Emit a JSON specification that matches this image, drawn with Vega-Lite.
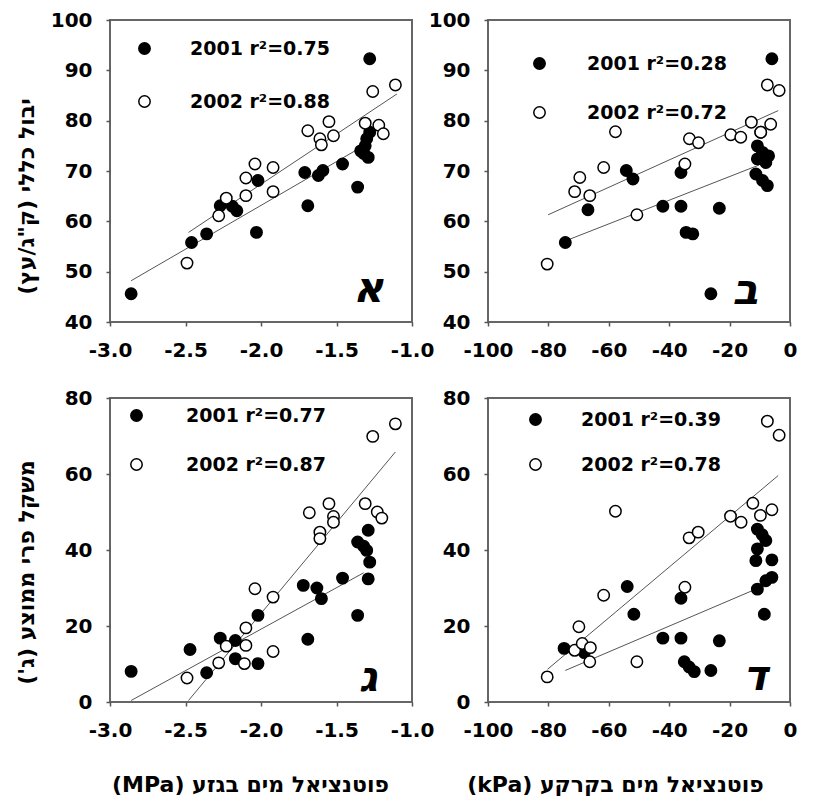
{
  "$schema": "https://vega.github.io/schema/vega-lite/v6.json",
  "padding": {"left": 14, "top": 9, "right": 0, "bottom": 0},
  "background": "white",
  "bounds": "flush",
  "columns": 2,
  "spacing": {"row": 76, "column": 76},
  "resolve": {"scale": {"fill": "independent"}, "legend": {"fill": "independent"}},
  "config": {
    "font": "DejaVu Sans",
    "view": {"stroke": "#666", "strokeWidth": 2},
    "axis": {
      "grid": false,
      "domain": false,
      "ticks": true,
      "tickSize": 4,
      "tickWidth": 1.5,
      "tickColor": "#555",
      "labelFont": "DejaVu Sans",
      "labelFontWeight": "bold",
      "labelFontSize": 20,
      "labelColor": "black",
      "labelPadding": 14,
      "labelFlush": false,
      "labelOverlap": false,
      "titleFont": "DejaVu Sans",
      "titleFontWeight": "bold",
      "titleFontSize": 22,
      "titleColor": "black"
    },
    "legend": {
      "orient": "none",
      "title": null,
      "padding": 0,
      "labelFont": "DejaVu Sans",
      "labelFontWeight": "bold",
      "labelFontSize": 19,
      "labelColor": "black",
      "symbolType": "circle",
      "symbolSize": 130,
      "symbolStrokeColor": "black",
      "symbolStrokeWidth": 1.5,
      "symbolOpacity": 1
    }
  },
  "concat": [
    {
      "width": 302,
      "height": 302,
      "layer": [
        {
          "data": {"values": [
            {"x": -2.86, "y": 48.2, "year": "2001"}, {"x": -1.32, "y": 75.0, "year": "2001"},
            {"x": -2.48, "y": 57.8, "year": "2002"}, {"x": -1.10, "y": 85.3, "year": "2002"}
          ]},
          "mark": {"type": "line", "color": "#555", "strokeWidth": 1},
          "encoding": {
            "x": {"field": "x", "type": "quantitative", "scale": {"domain": [-3, -1], "nice": false},
                  "axis": {"values": [-3, -2.5, -2, -1.5, -1], "format": ".1f", "labelExpr": "replace(datum.label, '−', '-')", "title": null}},
            "y": {"field": "y", "type": "quantitative", "scale": {"domain": [40, 100], "nice": false},
                  "axis": {"values": [40, 50, 60, 70, 80, 90, 100], "title": "יבול כללי (ק\"ג/עץ)\u200f", "titleX": -84, "titleY": 176, "titleAlign": "center", "titleBaseline": "middle", "titleAngle": -90}},
            "detail": {"field": "year"}
          }
        },
        {
          "data": {"values": [
            {"x": -2.86, "y": 45.6, "year": "2001"}, {"x": -2.46, "y": 55.8, "year": "2001"}, {"x": -2.36, "y": 57.5, "year": "2001"},
            {"x": -2.27, "y": 63.1, "year": "2001"}, {"x": -2.19, "y": 63.0, "year": "2001"}, {"x": -2.16, "y": 62.1, "year": "2001"},
            {"x": -2.03, "y": 57.8, "year": "2001"}, {"x": -2.02, "y": 68.1, "year": "2001"}, {"x": -1.71, "y": 69.7, "year": "2001"},
            {"x": -1.69, "y": 63.1, "year": "2001"}, {"x": -1.62, "y": 69.1, "year": "2001"}, {"x": -1.59, "y": 70.1, "year": "2001"},
            {"x": -1.46, "y": 71.4, "year": "2001"}, {"x": -1.36, "y": 66.8, "year": "2001"}, {"x": -1.28, "y": 92.3, "year": "2001"},
            {"x": -1.34, "y": 74.0, "year": "2001"}, {"x": -1.30, "y": 76.4, "year": "2001"}, {"x": -1.29, "y": 72.7, "year": "2001"},
            {"x": -1.31, "y": 75.0, "year": "2001"}, {"x": -1.28, "y": 77.7, "year": "2001"}, {"x": -1.32, "y": 73.5, "year": "2001"},
            {"x": -2.49, "y": 51.7, "year": "2002"}, {"x": -2.28, "y": 61.1, "year": "2002"}, {"x": -2.23, "y": 64.6, "year": "2002"},
            {"x": -2.10, "y": 65.1, "year": "2002"}, {"x": -2.10, "y": 68.6, "year": "2002"}, {"x": -2.04, "y": 71.4, "year": "2002"},
            {"x": -1.92, "y": 70.7, "year": "2002"}, {"x": -1.92, "y": 65.9, "year": "2002"}, {"x": -1.69, "y": 78.0, "year": "2002"},
            {"x": -1.61, "y": 76.4, "year": "2002"}, {"x": -1.60, "y": 75.2, "year": "2002"}, {"x": -1.55, "y": 79.8, "year": "2002"},
            {"x": -1.52, "y": 77.0, "year": "2002"}, {"x": -1.31, "y": 79.5, "year": "2002"}, {"x": -1.22, "y": 79.1, "year": "2002"},
            {"x": -1.19, "y": 77.4, "year": "2002"}, {"x": -1.26, "y": 85.8, "year": "2002"}, {"x": -1.11, "y": 87.1, "year": "2002"}
          ]},
          "mark": {"type": "point", "shape": "circle", "filled": true, "size": 130, "stroke": "black", "strokeWidth": 1.5, "opacity": 1},
          "encoding": {
            "x": {"field": "x", "type": "quantitative"},
            "y": {"field": "y", "type": "quantitative"},
            "fill": {"field": "year", "type": "nominal", "scale": {"domain": ["2001", "2002"], "range": ["black", "white"]},
                     "legend": {"legendX": 25, "legendY": 19, "rowPadding": 33, "labelOffset": 36,
                                "labelExpr": "datum.label == '2001' ? '2001 r²=0.75' : '2002 r²=0.88'"}}
          }
        },
        {
          "data": {"values": [{"letter": "א"}]},
          "mark": {"type": "text", "font": "DejaVu Sans", "fontWeight": "bold", "fontStyle": "italic", "fontSize": 42, "baseline": "alphabetic", "align": "center", "color": "black"},
          "encoding": {"x": {"datum": -1.29}, "y": {"datum": 44.0}, "text": {"field": "letter"}}
        }
      ]
    },
    {
      "width": 302,
      "height": 302,
      "layer": [
        {
          "data": {"values": [
            {"x": -74.0, "y": 56.2, "year": "2001"}, {"x": -10.2, "y": 71.2, "year": "2001"},
            {"x": -80.1, "y": 61.3, "year": "2002"}, {"x": -3.9, "y": 82.0, "year": "2002"}
          ]},
          "mark": {"type": "line", "color": "#555", "strokeWidth": 1},
          "encoding": {
            "x": {"field": "x", "type": "quantitative", "scale": {"domain": [-100, 0], "nice": false},
                  "axis": {"values": [-100, -80, -60, -40, -20, 0], "labelExpr": "replace(datum.label, '−', '-')", "title": null}},
            "y": {"field": "y", "type": "quantitative", "scale": {"domain": [40, 100], "nice": false},
                  "axis": {"values": [40, 50, 60, 70, 80, 90, 100], "title": null}},
            "detail": {"field": "year"}
          }
        },
        {
          "data": {"values": [
            {"x": -6.0, "y": 92.3, "year": "2001"}, {"x": -26.2, "y": 45.6, "year": "2001"}, {"x": -74.4, "y": 55.8, "year": "2001"},
            {"x": -66.9, "y": 62.3, "year": "2001"}, {"x": -54.2, "y": 70.1, "year": "2001"}, {"x": -52.0, "y": 68.4, "year": "2001"},
            {"x": -42.1, "y": 63.0, "year": "2001"}, {"x": -36.1, "y": 69.7, "year": "2001"}, {"x": -36.1, "y": 63.0, "year": "2001"},
            {"x": -34.4, "y": 57.8, "year": "2001"}, {"x": -32.2, "y": 57.5, "year": "2001"}, {"x": -23.4, "y": 62.6, "year": "2001"},
            {"x": -9.7, "y": 77.7, "year": "2001"}, {"x": -10.8, "y": 75.0, "year": "2001"}, {"x": -9.1, "y": 73.7, "year": "2001"},
            {"x": -10.8, "y": 72.4, "year": "2001"}, {"x": -8.0, "y": 71.7, "year": "2001"}, {"x": -11.3, "y": 69.4, "year": "2001"},
            {"x": -9.1, "y": 68.1, "year": "2001"}, {"x": -7.5, "y": 67.1, "year": "2001"}, {"x": -7.1, "y": 73.0, "year": "2001"},
            {"x": -80.4, "y": 51.5, "year": "2002"}, {"x": -71.3, "y": 65.9, "year": "2002"}, {"x": -69.6, "y": 68.7, "year": "2002"},
            {"x": -66.3, "y": 65.1, "year": "2002"}, {"x": -61.7, "y": 70.7, "year": "2002"}, {"x": -57.8, "y": 77.8, "year": "2002"},
            {"x": -50.7, "y": 61.3, "year": "2002"}, {"x": -34.8, "y": 71.4, "year": "2002"}, {"x": -33.3, "y": 76.4, "year": "2002"},
            {"x": -30.3, "y": 75.6, "year": "2002"}, {"x": -19.6, "y": 77.2, "year": "2002"}, {"x": -16.3, "y": 76.7, "year": "2002"},
            {"x": -12.8, "y": 79.7, "year": "2002"}, {"x": -9.7, "y": 77.7, "year": "2002"}, {"x": -6.4, "y": 79.3, "year": "2002"},
            {"x": -7.5, "y": 87.1, "year": "2002"}, {"x": -3.6, "y": 86.0, "year": "2002"}
          ]},
          "mark": {"type": "point", "shape": "circle", "filled": true, "size": 130, "stroke": "black", "strokeWidth": 1.5, "opacity": 1},
          "encoding": {
            "x": {"field": "x", "type": "quantitative"},
            "y": {"field": "y", "type": "quantitative"},
            "fill": {"field": "year", "type": "nominal", "scale": {"domain": ["2001", "2002"], "range": ["black", "white"]},
                     "legend": {"legendX": 42, "legendY": 34, "rowPadding": 29, "labelOffset": 38,
                                "labelExpr": "datum.label == '2001' ? '2001 r²=0.28' : '2002 r²=0.72'"}}
          }
        },
        {
          "data": {"values": [{"letter": "ב"}]},
          "mark": {"type": "text", "font": "DejaVu Sans", "fontWeight": "bold", "fontStyle": "italic", "fontSize": 42, "baseline": "alphabetic", "align": "center", "color": "black"},
          "encoding": {"x": {"datum": -14.8}, "y": {"datum": 43.6}, "text": {"field": "letter"}}
        }
      ]
    },
    {
      "width": 302,
      "height": 304,
      "layer": [
        {
          "data": {"values": [
            {"x": -2.86, "y": 0.4, "year": "2001"}, {"x": -1.32, "y": 34.0, "year": "2001"},
            {"x": -2.48, "y": 0.4, "year": "2002"}, {"x": -1.11, "y": 65.8, "year": "2002"}
          ]},
          "mark": {"type": "line", "color": "#555", "strokeWidth": 1},
          "encoding": {
            "x": {"field": "x", "type": "quantitative", "scale": {"domain": [-3, -1], "nice": false},
                  "axis": {"values": [-3, -2.5, -2, -1.5, -1], "format": ".1f", "labelExpr": "replace(datum.label, '−', '-')",
                           "title": "(MPa)  פוטנציאל מים בגזע", "titleX": 140, "titleY": 82, "titleAlign": "center", "titleBaseline": "middle"}},
            "y": {"field": "y", "type": "quantitative", "scale": {"domain": [0, 80], "nice": false},
                  "axis": {"values": [0, 20, 40, 60, 80], "title": "משקל פרי ממוצע (ג')\u200f", "titleX": -84, "titleY": 174, "titleAlign": "center", "titleBaseline": "middle", "titleAngle": -90}},
            "detail": {"field": "year"}
          }
        },
        {
          "data": {"values": [
            {"x": -2.86, "y": 8.05, "year": "2001"}, {"x": -2.47, "y": 13.8, "year": "2001"}, {"x": -2.36, "y": 7.7, "year": "2001"},
            {"x": -2.27, "y": 16.8, "year": "2001"}, {"x": -2.17, "y": 16.2, "year": "2001"}, {"x": -2.17, "y": 11.4, "year": "2001"},
            {"x": -2.02, "y": 10.1, "year": "2001"}, {"x": -2.02, "y": 22.8, "year": "2001"}, {"x": -1.72, "y": 30.7, "year": "2001"},
            {"x": -1.69, "y": 16.5, "year": "2001"}, {"x": -1.63, "y": 30.0, "year": "2001"}, {"x": -1.60, "y": 27.2, "year": "2001"},
            {"x": -1.46, "y": 32.6, "year": "2001"}, {"x": -1.36, "y": 22.8, "year": "2001"}, {"x": -1.36, "y": 42.1, "year": "2001"},
            {"x": -1.29, "y": 45.2, "year": "2001"}, {"x": -1.30, "y": 39.9, "year": "2001"}, {"x": -1.28, "y": 36.8, "year": "2001"},
            {"x": -1.29, "y": 32.4, "year": "2001"}, {"x": -1.32, "y": 41.0, "year": "2001"},
            {"x": -2.49, "y": 6.3, "year": "2002"}, {"x": -2.28, "y": 10.3, "year": "2002"}, {"x": -2.23, "y": 14.7, "year": "2002"},
            {"x": -2.10, "y": 14.9, "year": "2002"}, {"x": -2.10, "y": 19.5, "year": "2002"}, {"x": -2.11, "y": 10.1, "year": "2002"},
            {"x": -2.04, "y": 29.8, "year": "2002"}, {"x": -1.92, "y": 27.6, "year": "2002"}, {"x": -1.92, "y": 13.3, "year": "2002"},
            {"x": -1.68, "y": 49.8, "year": "2002"}, {"x": -1.61, "y": 44.7, "year": "2002"}, {"x": -1.61, "y": 43.0, "year": "2002"},
            {"x": -1.55, "y": 52.2, "year": "2002"}, {"x": -1.52, "y": 48.8, "year": "2002"}, {"x": -1.52, "y": 47.3, "year": "2002"},
            {"x": -1.31, "y": 52.2, "year": "2002"}, {"x": -1.23, "y": 50.0, "year": "2002"}, {"x": -1.20, "y": 48.4, "year": "2002"},
            {"x": -1.26, "y": 69.9, "year": "2002"}, {"x": -1.11, "y": 73.2, "year": "2002"}
          ]},
          "mark": {"type": "point", "shape": "circle", "filled": true, "size": 130, "stroke": "black", "strokeWidth": 1.5, "opacity": 1},
          "encoding": {
            "x": {"field": "x", "type": "quantitative"},
            "y": {"field": "y", "type": "quantitative"},
            "fill": {"field": "year", "type": "nominal", "scale": {"domain": ["2001", "2002"], "range": ["black", "white"]},
                     "legend": {"legendX": 17, "legendY": 8, "rowPadding": 29, "labelOffset": 40,
                                "labelExpr": "datum.label == '2001' ? '2001 r²=0.77' : '2002 r²=0.87'"}}
          }
        },
        {
          "data": {"values": [{"letter": "ג"}]},
          "mark": {"type": "text", "font": "DejaVu Sans", "fontWeight": "bold", "fontStyle": "italic", "fontSize": 42, "baseline": "alphabetic", "align": "center", "color": "black"},
          "encoding": {"x": {"datum": -1.29}, "y": {"datum": 3.0}, "text": {"field": "letter"}}
        }
      ]
    },
    {
      "width": 302,
      "height": 304,
      "layer": [
        {
          "data": {"values": [
            {"x": -74.4, "y": 8.3, "year": "2001"}, {"x": -11.3, "y": 29.7, "year": "2001"},
            {"x": -80.3, "y": 8.6, "year": "2002"}, {"x": -3.9, "y": 59.6, "year": "2002"}
          ]},
          "mark": {"type": "line", "color": "#555", "strokeWidth": 1},
          "encoding": {
            "x": {"field": "x", "type": "quantitative", "scale": {"domain": [-100, 0], "nice": false},
                  "axis": {"values": [-100, -80, -60, -40, -20, 0], "labelExpr": "replace(datum.label, '−', '-')",
                           "title": "(kPa)  פוטנציאל מים בקרקע", "titleX": 127, "titleY": 82, "titleAlign": "center", "titleBaseline": "middle"}},
            "y": {"field": "y", "type": "quantitative", "scale": {"domain": [0, 80], "nice": false},
                  "axis": {"values": [0, 10, 20, 30, 40, 50, 60, 70, 80], "title": null}},
            "detail": {"field": "year"}
          }
        },
        {
          "data": {"values": [
            {"x": -74.8, "y": 14.1, "year": "2001"}, {"x": -68.1, "y": 13.0, "year": "2001"}, {"x": -53.9, "y": 30.4, "year": "2001"},
            {"x": -51.7, "y": 23.1, "year": "2001"}, {"x": -42.1, "y": 16.8, "year": "2001"}, {"x": -36.1, "y": 27.3, "year": "2001"},
            {"x": -36.1, "y": 16.8, "year": "2001"}, {"x": -35.0, "y": 10.6, "year": "2001"}, {"x": -33.4, "y": 9.2, "year": "2001"},
            {"x": -31.7, "y": 8.0, "year": "2001"}, {"x": -26.2, "y": 8.3, "year": "2001"}, {"x": -23.4, "y": 16.1, "year": "2001"},
            {"x": -8.5, "y": 23.1, "year": "2001"}, {"x": -10.8, "y": 45.5, "year": "2001"}, {"x": -8.0, "y": 42.5, "year": "2001"},
            {"x": -10.8, "y": 40.3, "year": "2001"}, {"x": -11.3, "y": 37.2, "year": "2001"}, {"x": -6.0, "y": 37.4, "year": "2001"},
            {"x": -10.8, "y": 29.7, "year": "2001"}, {"x": -8.0, "y": 31.9, "year": "2001"}, {"x": -6.0, "y": 32.8, "year": "2001"},
            {"x": -9.2, "y": 44.0, "year": "2001"},
            {"x": -80.4, "y": 6.6, "year": "2002"}, {"x": -71.3, "y": 13.6, "year": "2002"}, {"x": -69.9, "y": 19.8, "year": "2002"},
            {"x": -68.8, "y": 15.4, "year": "2002"}, {"x": -66.1, "y": 14.3, "year": "2002"}, {"x": -66.3, "y": 10.6, "year": "2002"},
            {"x": -61.7, "y": 28.1, "year": "2002"}, {"x": -57.8, "y": 50.2, "year": "2002"}, {"x": -50.7, "y": 10.6, "year": "2002"},
            {"x": -34.8, "y": 30.2, "year": "2002"}, {"x": -33.4, "y": 43.2, "year": "2002"}, {"x": -30.4, "y": 44.7, "year": "2002"},
            {"x": -19.7, "y": 48.9, "year": "2002"}, {"x": -16.2, "y": 47.3, "year": "2002"}, {"x": -12.3, "y": 52.3, "year": "2002"},
            {"x": -9.8, "y": 49.1, "year": "2002"}, {"x": -6.0, "y": 50.6, "year": "2002"}, {"x": -7.5, "y": 73.9, "year": "2002"},
            {"x": -3.6, "y": 70.2, "year": "2002"}
          ]},
          "mark": {"type": "point", "shape": "circle", "filled": true, "size": 130, "stroke": "black", "strokeWidth": 1.5, "opacity": 1},
          "encoding": {
            "x": {"field": "x", "type": "quantitative"},
            "y": {"field": "y", "type": "quantitative"},
            "fill": {"field": "year", "type": "nominal", "scale": {"domain": ["2001", "2002"], "range": ["black", "white"]},
                     "legend": {"legendX": 38, "legendY": 12, "rowPadding": 25, "labelOffset": 36,
                                "labelExpr": "datum.label == '2001' ? '2001 r²=0.39' : '2002 r²=0.78'"}}
          }
        },
        {
          "data": {"values": [{"letter": "ד"}]},
          "mark": {"type": "text", "font": "DejaVu Sans", "fontWeight": "bold", "fontStyle": "italic", "fontSize": 42, "baseline": "alphabetic", "align": "center", "color": "black"},
          "encoding": {"x": {"datum": -11.5}, "y": {"datum": 3.2}, "text": {"field": "letter"}}
        }
      ]
    }
  ]
}
